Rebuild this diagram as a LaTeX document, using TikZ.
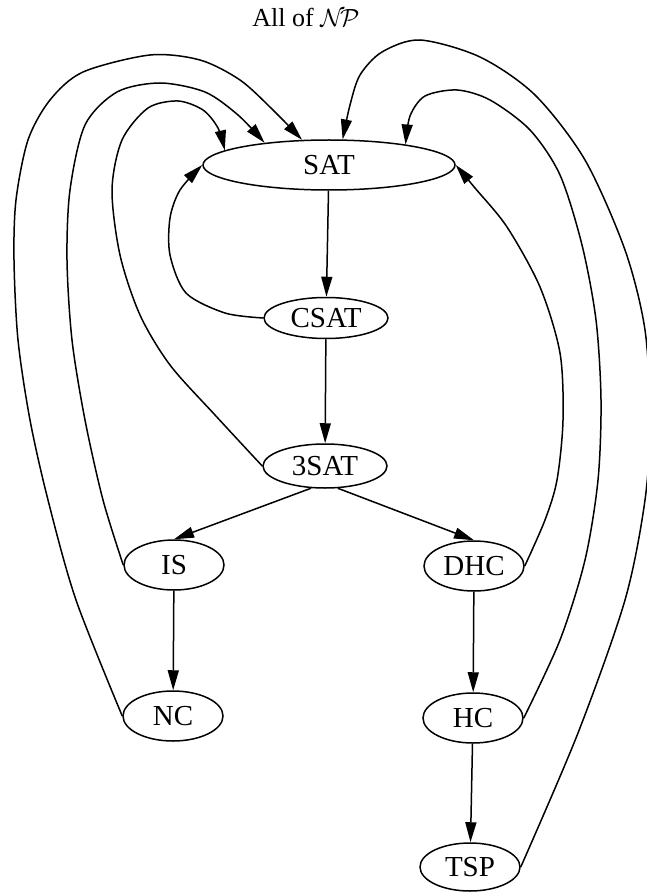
\documentclass[tikz,border=0pt]{standalone}
\usepackage{fontspec}
\setmainfont{Liberation Serif}
\usetikzlibrary{arrows.meta,shapes.geometric}
\begin{document}
\begin{tikzpicture}[x=1pt,y=-1pt,
  state/.style={ellipse,draw,line width=1.5pt,inner sep=0pt,
    minimum width=100pt,minimum height=50pt,font=\fontsize{29}{30}\selectfont},
  edge/.style={line width=1.5pt,-{Triangle[length=20pt,width=11pt]}},
  titlefont/.style={font=\fontsize{26}{28}\selectfont}]
\useasboundingbox (0,0) rectangle (647,893);
\node[titlefont] (title) at (306,17) {All of $\mathcal{N}\!\mathcal{P}$};
\node[state,minimum width=252pt,minimum height=50pt] (SAT) at (329,165) {SAT};
\node[state,minimum width=124pt,minimum height=41pt] (CSAT) at (326,318) {CSAT};
\node[state,minimum width=124pt,minimum height=44pt] (ThreeSAT) at (325,466) {3SAT};
\node[state] (IS) at (174,565) {IS};
\node[state] (DHC) at (474,566) {DHC};
\node[state] (NC) at (173,716) {NC};
\node[state] (HC) at (473,718) {HC};
\node[state,minimum height=48pt] (TSP) at (470,867) {TSP};
% straight edges
\draw[edge] (SAT) -- (CSAT);
\draw[edge] (CSAT) -- (ThreeSAT);
\draw[edge] (ThreeSAT.238) -- (IS.north);
\draw[edge] (ThreeSAT.300) -- (DHC.north);
\draw[edge] (IS) -- (NC);
\draw[edge] (DHC) -- (HC);
\draw[edge] (HC) -- (TSP);
% curved edges back to SAT
\draw[edge] plot[smooth] coordinates {(CSAT.west) (225,313) (186,293) (170,255) (170,218) (180,190) (SAT.west)};
\draw[edge] plot[smooth] coordinates {(ThreeSAT.west) (215,415) (170,365) (140,315) (120,255) (112,190) (122,140) (148,108) (178,101) (203,110) (218,128) (SAT.172)};
\draw[edge] plot[smooth] coordinates {(IS.west) (103,500) (85,420) (72,340) (67,260) (70,190) (85,125) (117,92) (160,83) (205,92) (238,115) (SAT.161)};
\draw[edge] plot[smooth] coordinates {(NC.west) (76,600) (48,500) (30,420) (18,340) (14,260) (16,200) (28,140) (50,100) (83,72) (150,55) (200,60) (240,80) (273,110) (SAT.137)};
\draw[edge] plot[smooth] coordinates {(DHC.east) (545,520) (557,480) (563,420) (560,353) (540,287) (507,227) (475,188) (SAT.east)};
\draw[edge] plot[smooth] coordinates {(HC.east) (560,640) (585,560) (598,480) (601,400) (596,320) (582,245) (560,175) (530,130) (490,100) (457,90) (425,96) (410,116) (SAT.15)};
\draw[edge] plot[smooth] coordinates {(TSP.east) (578,733) (625,600) (645,500) (650,420) (645,330) (625,250) (585,160) (535,95) (480,57) (420,40) (382,52) (360,75) (350,105) (SAT.62)};
\end{tikzpicture}
\end{document}
